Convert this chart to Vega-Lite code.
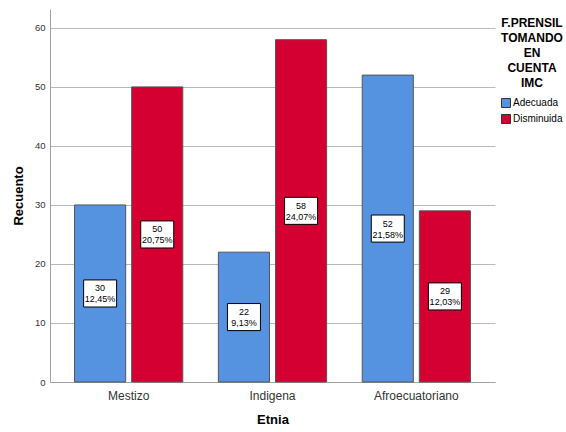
{
  "$schema": "https://vega.github.io/schema/vega-lite/v6.json",
  "autosize": {"type": "none"},
  "width": 445,
  "height": 373,
  "padding": {"left": 50, "top": 9, "right": 71, "bottom": 50},
  "background": "white",
  "config": {
    "view": {"stroke": null},
    "font": "Liberation Sans"
  },
  "data": {
    "values": [
      {"etnia": "Mestizo", "fprensil": "Adecuada", "recuento": 30, "porcentaje": "12,45%"},
      {"etnia": "Mestizo", "fprensil": "Disminuida", "recuento": 50, "porcentaje": "20,75%"},
      {"etnia": "Indigena", "fprensil": "Adecuada", "recuento": 22, "porcentaje": "9,13%"},
      {"etnia": "Indigena", "fprensil": "Disminuida", "recuento": 58, "porcentaje": "24,07%"},
      {"etnia": "Afroecuatoriano", "fprensil": "Adecuada", "recuento": 52, "porcentaje": "21,58%"},
      {"etnia": "Afroecuatoriano", "fprensil": "Disminuida", "recuento": 29, "porcentaje": "12,03%"}
    ]
  },
  "transform": [
    {"calculate": "datum.recuento / 2", "as": "centro"},
    {"calculate": "datum.recuento + '\\n' + datum.porcentaje", "as": "etiqueta"}
  ],
  "encoding": {
    "x": {
      "field": "etnia",
      "type": "nominal",
      "sort": ["Mestizo", "Indigena", "Afroecuatoriano"],
      "scale": {"paddingInner": 0.2474, "paddingOuter": 0.1707},
      "axis": {
        "title": "Etnia",
        "titleFont": "Liberation Sans",
        "titleFontSize": 13,
        "titleFontWeight": "bold",
        "titleColor": "#000000",
        "titlePadding": 12,
        "labelFont": "Liberation Sans",
        "labelFontSize": 12,
        "labelColor": "#333333",
        "labelPadding": 8,
        "labelAngle": 0,
        "ticks": false,
        "domainColor": "#a0a0a0",
        "domainWidth": 1
      }
    },
    "xOffset": {
      "field": "fprensil",
      "type": "nominal",
      "scale": {"paddingInner": 0.105, "paddingOuter": 0}
    }
  },
  "layer": [
    {
      "mark": {"type": "bar", "stroke": "#555555", "strokeWidth": 1},
      "encoding": {
        "y": {
          "field": "recuento",
          "type": "quantitative",
          "scale": {"domain": [0, 63.2], "nice": false},
          "axis": {
            "title": "Recuento",
            "titleFont": "Liberation Sans",
            "titleFontSize": 13,
            "titleFontWeight": "bold",
            "titleColor": "#000000",
            "titlePadding": 9,
            "values": [0, 10, 20, 30, 40, 50, 60],
            "labelFont": "Liberation Sans",
            "labelFontSize": 9.5,
            "labelColor": "#333333",
            "labelPadding": 5,
            "ticks": false,
            "grid": true,
            "gridColor": "#b9b9b9",
            "gridWidth": 1,
            "domainColor": "#a0a0a0",
            "domainWidth": 1
          }
        },
        "color": {
          "field": "fprensil",
          "type": "nominal",
          "scale": {"domain": ["Adecuada", "Disminuida"], "range": ["#5592e0", "#d50032"]},
          "legend": {
            "title": ["F.PRENSIL", "TOMANDO", "EN", "CUENTA", "IMC"],
            "orient": "none",
            "legendX": 451,
            "legendY": 9,
            "titleFont": "Liberation Sans",
            "titleFontSize": 12,
            "titleFontWeight": "bold",
            "titleColor": "#000000",
            "titleLineHeight": 15,
            "titleAnchor": "middle",
            "titleAlign": "center",
            "titlePadding": 8,
            "labelFont": "Liberation Sans",
            "labelFontSize": 10,
            "labelColor": "#000000",
            "labelOffset": 2,
            "symbolType": "square",
            "symbolSize": 81,
            "symbolStrokeColor": "#333333",
            "symbolStrokeWidth": 1,
            "symbolOpacity": 1,
            "rowPadding": 2
          }
        }
      }
    },
    {
      "mark": {
        "type": "point",
        "shape": "M-1,-0.82H1V0.82H-1Z",
        "filled": true,
        "fill": "white",
        "stroke": "#000000",
        "strokeWidth": 1,
        "opacity": 1,
        "size": 1089
      },
      "encoding": {
        "y": {"field": "centro", "type": "quantitative"}
      }
    },
    {
      "mark": {
        "type": "text",
        "font": "Liberation Sans",
        "fontSize": 9,
        "lineBreak": "\n",
        "lineHeight": 11,
        "dy": -5,
        "align": "center",
        "baseline": "middle",
        "color": "#000000"
      },
      "encoding": {
        "y": {"field": "centro", "type": "quantitative"},
        "text": {"field": "etiqueta"}
      }
    }
  ]
}
